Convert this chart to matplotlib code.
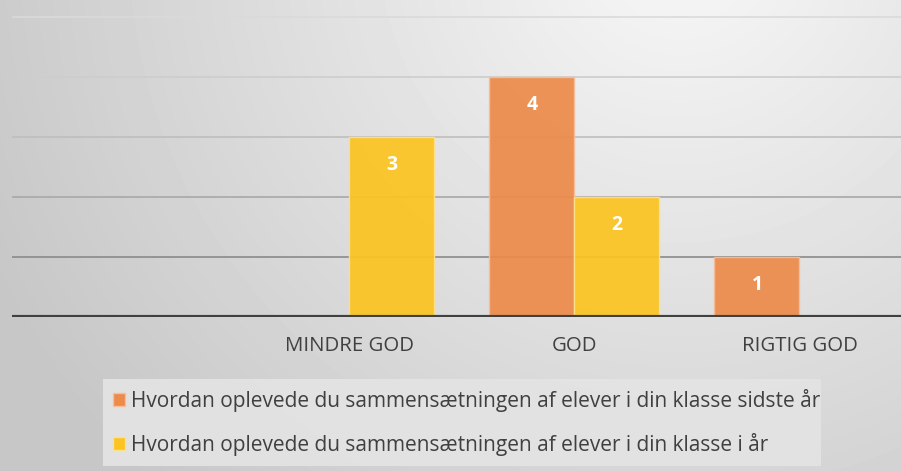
import numpy as np
import matplotlib.pyplot as plt
from matplotlib.patches import Patch, Rectangle

categories = ["", "MINDRE GOD", "GOD", "RIGTIG GOD"]
last_year = [0, 0, 4, 1]
this_year = [0, 3, 2, 0]
series_names = [
    "Hvordan oplevede du sammensætningen af elever i din klasse sidste år",
    "Hvordan oplevede du sammensætningen af elever i din klasse i år",
]
colors = ["#ED8B4B", "#FBC421"]
edge_colors = ["#F6BE9A", "#FDE08C"]

plt.rcParams['font.family'] = ['Open Sans', 'DejaVu Sans']

W, H = 901, 471
fig = plt.figure(figsize=(W / 100, H / 100), dpi=100)

# gradient background
bg = fig.add_axes([0, 0, 1, 1], zorder=-10)
yy, xx = np.mgrid[0:H, 0:W]
d = np.hypot(xx - 680, yy + 60) / 800
shade = np.clip(0.97 - 0.2 * d, 0.78, 0.97)
bg.imshow(shade, cmap='gray', vmin=0, vmax=1, extent=[0, W, H, 0], aspect='auto')
bg.set_xlim(0, W)
bg.set_ylim(H, 0)
bg.axis('off')
# legend box
bg.add_patch(Rectangle((103, 379), 718, 87, facecolor="#e4e4e4", edgecolor='none', alpha=0.9))

ax = fig.add_axes([12 / W, (H - 317) / H, 900 / W, 317 / H])
ax.patch.set_alpha(0)
ax.set_xlim(-0.5, 3.5)
ax.set_ylim(0, 317 / 60)

# gridlines, darker towards the bottom
grid_grays = ["#8a8a8a", "#a8a8a8", "#bebebe", "#cdcdcd", "#dadada"]
for i, g in enumerate(grid_grays):
    ax.axhline(i + 1, color=g, lw=1.2, zorder=1)
ax.axhline(0, color="#404040", lw=3, zorder=4)

x = np.arange(len(categories))
w = 85 / 225
for k, vals in enumerate([last_year, this_year]):
    off = (k - 0.5) * w
    v = np.array(vals, dtype=float)
    v[v == 0] = np.nan
    bars = ax.bar(x + off, v, w, color=colors[k], edgecolor=edge_colors[k],
                  linewidth=1, alpha=0.93, zorder=2)
    for xi, vi in zip(x, vals):
        if vi:
            ax.annotate(str(vi), (xi + off, vi), xytext=(0, -28),
                        textcoords='offset pixels', ha='center', va='center',
                        color='white', fontsize=14, fontweight='bold', zorder=5)

ax.set_xticks(x, categories)
ax.tick_params(axis='x', length=0, pad=14, labelsize=14.7, labelcolor="#404040")
ax.set_yticks([])
for s in ax.spines.values():
    s.set_visible(False)

handles = [Patch(facecolor=c, edgecolor=e, lw=1) for c, e in zip(colors, edge_colors)]
leg = fig.legend(handles, series_names, loc='center left',
                 bbox_to_anchor=(113 / W, 1 - 422.5 / H), frameon=False,
                 borderaxespad=0, borderpad=0, handlelength=0.58,
                 handleheight=0.58, handletextpad=0.3, labelspacing=1.0,
                 fontsize=15, labelcolor="#404040")

fig.savefig("out.png", dpi=100)
